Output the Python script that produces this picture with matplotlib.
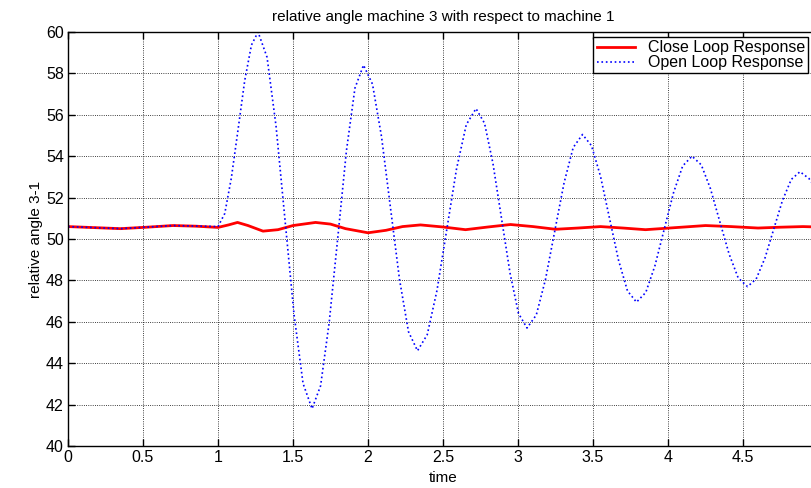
import numpy as np
import matplotlib.pyplot as plt

plt.rcParams['font.family'] = ['Liberation Sans', 'DejaVu Sans']

# closed loop response
t_close = [0, 0.175, 0.35, 0.525, 0.7, 0.85, 1.0, 1.07, 1.13, 1.2, 1.3, 1.4, 1.5,
           1.65, 1.75, 1.85, 2.0, 2.12, 2.23, 2.35, 2.5, 2.65, 2.8, 2.95, 3.1,
           3.25, 3.4, 3.55, 3.7, 3.85, 4.05, 4.25, 4.42, 4.6, 4.75, 4.9, 5.0]
y_close = [50.6, 50.55, 50.5, 50.57, 50.65, 50.62, 50.56, 50.68, 50.8, 50.65, 50.38,
           50.45, 50.65, 50.8, 50.72, 50.5, 50.3, 50.42, 50.6, 50.68, 50.58, 50.45,
           50.58, 50.7, 50.6, 50.47, 50.53, 50.6, 50.53, 50.45, 50.55, 50.65, 50.6,
           50.53, 50.57, 50.6, 50.58]

# open loop response
t_open = [0, 0.35, 0.7, 1.0, 1.045, 1.089, 1.134, 1.178, 1.223, 1.267,
          1.327, 1.387, 1.447, 1.507, 1.567, 1.627,
          1.684, 1.741, 1.799, 1.856, 1.913, 1.97,
          2.03, 2.09, 2.15, 2.21, 2.27, 2.33,
          2.395, 2.46, 2.525, 2.59, 2.655, 2.72,
          2.777, 2.833, 2.89, 2.947, 3.003, 3.06,
          3.122, 3.183, 3.245, 3.307, 3.368, 3.43,
          3.49, 3.55, 3.61, 3.67, 3.73, 3.79,
          3.852, 3.913, 3.975, 4.037, 4.098, 4.16,
          4.222, 4.283, 4.345, 4.407, 4.468, 4.53,
          4.588, 4.647, 4.705, 4.763, 4.822, 4.88,
          4.94, 5.0]
y_open = [50.6, 50.5, 50.65, 50.6, 51.23, 52.95, 55.3, 57.65, 59.37, 60.0,
          58.78, 55.45, 50.9, 46.35, 43.02, 41.8,
          42.91, 45.95, 50.1, 54.25, 57.29, 58.4,
          57.48, 54.95, 51.5, 48.05, 45.52, 44.6,
          45.38, 47.52, 50.45, 53.38, 55.52, 56.3,
          55.59, 53.65, 51.0, 48.35, 46.41, 45.7,
          46.33, 48.04, 50.38, 52.71, 54.42, 55.05,
          54.51, 53.03, 51.0, 48.98, 47.49, 46.95,
          47.42, 48.71, 50.48, 52.24, 53.53, 54.0,
          53.58, 52.43, 50.85, 49.28, 48.12, 47.7,
          48.07, 49.09, 50.48, 51.86, 52.88, 53.25,
          52.92, 52.3]

fig = plt.figure(figsize=(8.12, 4.88), dpi=100)
ax = fig.add_axes([68 / 812, 42 / 488, 750 / 812, 414 / 488])

ax.plot(t_close, y_close, color='red', linewidth=2, label='Close Loop Response')
ax.plot(t_open, y_open, color='blue', linestyle=':', linewidth=1.2, label='Open Loop Response')

ax.set_xlim(0, 5)
ax.set_ylim(40, 60)
ax.set_xticks(np.arange(0, 5.01, 0.5))
ax.set_xticklabels(['0', '0.5', '1', '1.5', '2', '2.5', '3', '3.5', '4', '4.5', '5'])
ax.set_yticks(np.arange(40, 61, 2))
ax.grid(True, linestyle=':', color='black', linewidth=0.6)
ax.tick_params(direction='in', top=True, right=True, length=5, width=1, labelsize=11.5, pad=3)
for s in ax.spines.values():
    s.set_linewidth(1.0)

ax.set_title('relative angle machine 3 with respect to machine 1', fontsize=11, pad=8)
ax.set_xlabel('time', fontsize=11, labelpad=4)
ax.set_ylabel('relative angle 3-1', fontsize=11, labelpad=2)

leg = ax.legend(loc='upper right', bbox_to_anchor=(0.987, 0.988), fontsize=11.5, fancybox=False,
                framealpha=1, edgecolor='black', borderpad=0.2, labelspacing=0.0,
                handlelength=2.4, handletextpad=0.8, borderaxespad=0)
leg.get_frame().set_linewidth(1.0)

fig.savefig('out.png', dpi=100)
